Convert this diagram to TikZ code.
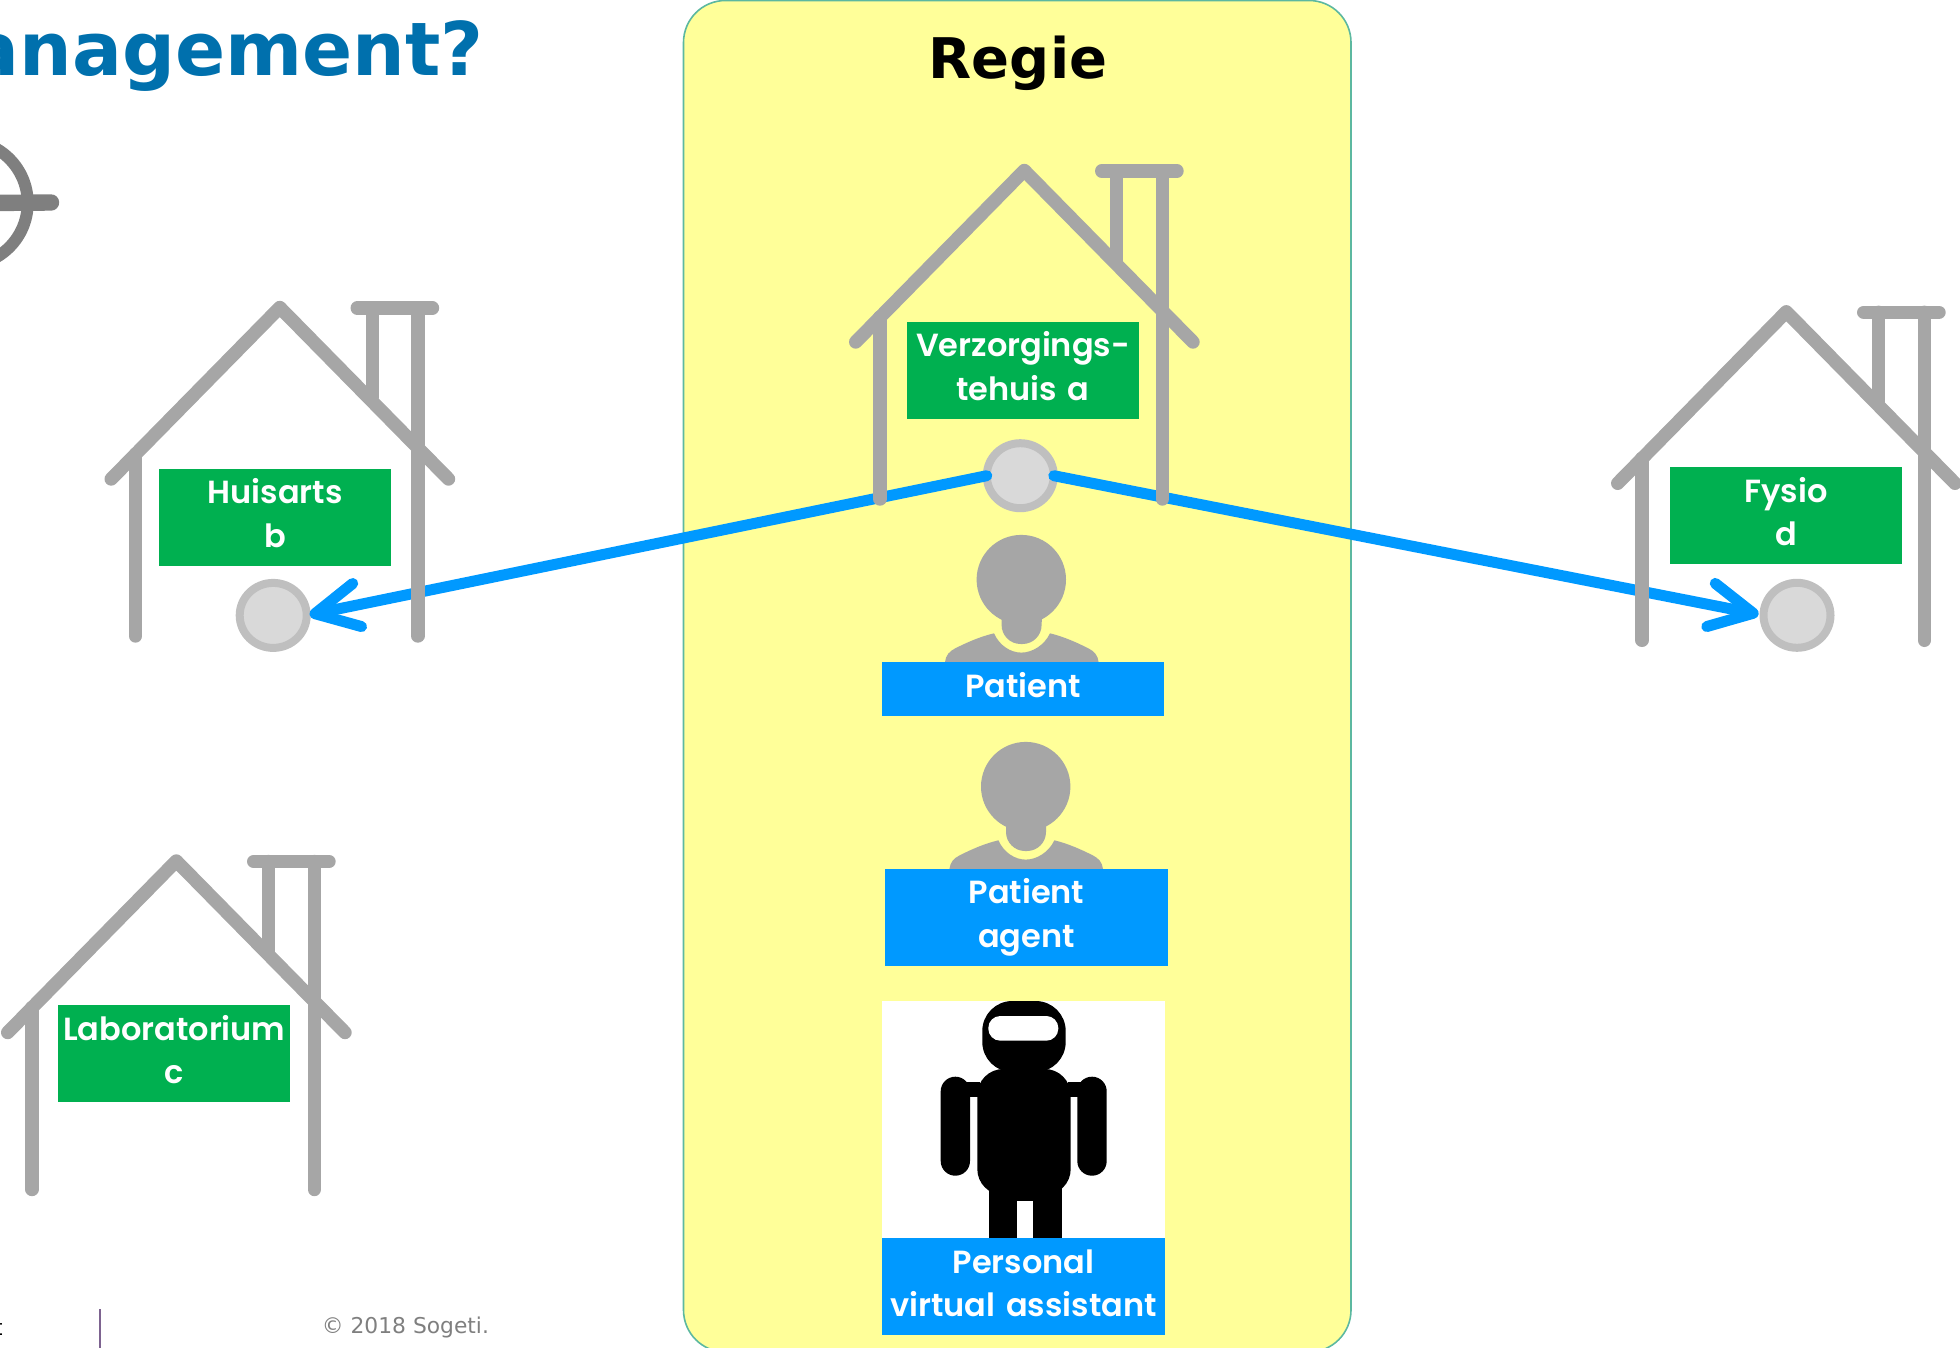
\documentclass[tikz,border=0pt]{standalone}
\usepackage{fontspec}
\setmainfont{DejaVu Sans}
\newfontfamily\labfont{Poppins SemiBold}
\usetikzlibrary{arrows.meta,shapes.geometric}
\definecolor{panelfill}{HTML}{FFFF99}
\definecolor{panelline}{HTML}{5CB8A0}
\definecolor{greyicon}{HTML}{A6A6A6}
\definecolor{greenbox}{HTML}{00B050}
\definecolor{bluebox}{HTML}{0099FF}
\definecolor{titleblue}{HTML}{0070AD}
\definecolor{ringline}{HTML}{BFBFBF}
\definecolor{ringfill}{HTML}{D9D9D9}
\definecolor{footgrey}{HTML}{7F7F7F}
\definecolor{footbar}{HTML}{7D6390}
\tikzset{
  x=0.5pt,y=-0.5pt,
  houseline/.style={draw=greyicon,line width=6.7pt,line cap=round,line join=round},
  house/.pic={
    \draw[houseline] (-168.6,170)--(0,-1.5)--(168.7,170);
    \draw[houseline] (-144.3,145)--(-144.3,327);
    \draw[houseline] (138,-1)--(138,327);
    \draw[houseline] (92.4,-1)--(92.4,88);
    \draw[houseline] (77.4,-1)--(152.7,-1);
  },
  person/.pic={
    \fill[greyicon] (0,2.3) circle[radius=44.7];
    \fill[greyicon,rounded corners=9.5pt] (-19.7,20) rectangle (20.3,66.7);
    \fill[greyicon] (-19.7,20) rectangle (20.3,45);
    \fill[greyicon] (-76.3,84.7) .. controls (-75.5,78) and (-72,74) .. (-66,71)
      .. controls (-55,65.5) and (-42,59.5) .. (-27.3,56)
      .. controls (-22,68) and (-11,75.3) .. (0,75.3)
      .. controls (11,75.3) and (23,68) .. (28.7,56)
      .. controls (43,59.5) and (56,65.5) .. (67,71)
      .. controls (73,74) and (76.5,78) .. (77.3,84.7) -- cycle;
  },
  labelbase/.style={inner sep=0pt,outer sep=0pt,text=white,align=center,
    font=\labfont\fontsize{16}{21.7}\selectfont,text height=17.5pt},
  greenlabel/.style={labelbase,fill=greenbox,text width=116pt,text depth=31pt},
  bluelabel/.style={labelbase,fill=bluebox,text width=141.5pt,text depth=31pt},
  blueone/.style={labelbase,fill=bluebox,text width=141pt,text depth=9.35pt},
  ring/.style={ellipse,draw=ringline,fill=ringfill,line width=4pt,inner sep=0pt,outer sep=0pt,
    minimum width=33.5pt,minimum height=32.5pt},
  conn/.style={draw=bluebox,line width=5.5pt,line cap=round,
    -{Straight Barb[length=21.5pt,width=22pt,round]}},
}
\begin{document}
\begin{tikzpicture}
\useasboundingbox (0,0) rectangle (1960,1348);
\clip (0,0) rectangle (1960,1348);
% title and mark
\node[anchor=base east,inner sep=0pt,text=titleblue,font=\bfseries\fontsize{37}{40}\selectfont] (title) at (484,76) {Management?};
\draw[draw=footgrey,line width=6pt] (-34.8,203) circle[radius=62.5];
\draw[draw=footgrey,line width=8.2pt,line cap=round] (-10,203) -- (51,202.5);
% panel
\draw[fill=panelfill,draw=panelline,line width=0.8pt,rounded corners=21pt] (683.5,0.5) rectangle (1351,1352);
\node[anchor=base,inner sep=0pt,font=\bfseries\fontsize{28}{30}\selectfont] (regie) at (1018,79) {Regie};
% connection points
\node[ring] (ca) at (1020.3,475.7) {};
\node[ring] (cb) at (273.2,615.4) {};
\node[ring] (cd) at (1797,615.3) {};
% connectors
\draw[conn,shorten >=1.5pt] (ca.west) -- (cb.east);
\draw[conn,shorten >=2.5pt] (ca.east) -- (cd.west);
% houses
\pic at (1024.3,172) {house};
\pic at (279.8,309) {house};
\pic at (1786.3,313.3) {house};
\pic at (176.3,862.5) {house};
% house labels
\node[greenlabel] (huis) at (275.1,517.3) {Huisarts\\b};
\node[greenlabel] (verz) at (1023,370.5) {Verzorgings-\\tehuis a};
\node[greenlabel] (fys) at (1786,515.5) {Fysio\\d};
\node[greenlabel] (lab) at (174.3,1053.7) {Laboratorium\\c};
% persons
\pic at (1021.3,577.3) {person};
\pic at (1025.7,784.3) {person};
\node[blueone] (pat) at (1023,688.9) {Patient};
\node[bluelabel] (agent) at (1026.5,917.4) {Patient\\agent};
% robot
\fill[white] (882,1001) rectangle (1165,1238);
\fill[black,rounded corners=15pt] (982.3,1001) rectangle (1065.7,1072);
\fill[white,rounded corners=6pt] (988.3,1016) rectangle (1058.3,1040.7);
\fill[black,rounded corners=13pt] (977.3,1069) rectangle (1070.7,1195);
\fill[black] (989,1180) rectangle (1061.7,1238);
\fill[white] (1017.3,1200.7) rectangle (1032.7,1238);
\fill[black,rounded corners=7.3pt] (940.7,1076.7) rectangle (970,1175.7);
\fill[black,rounded corners=7.3pt] (1077.3,1076.7) rectangle (1106.7,1175.7);
\fill[black] (965,1082) rectangle (980,1097.3);
\fill[black] (1068,1082) rectangle (1082,1097.3);
\node[bluelabel] (pva) at (1023.5,1286.5) {Personal\\virtual assistant};
% footer
\node[anchor=base east,inner sep=0pt,font=\fontsize{10.9}{13}\selectfont] (cut) at (3,1335) {t};
\draw[draw=footbar,line width=0.8pt] (100,1309) -- (100,1348);
\node[anchor=base west,inner sep=0pt,text=footgrey,font=\fontsize{10.9}{13}\selectfont] (copy) at (321.5,1333) {© 2018 Sogeti.};
\end{tikzpicture}
\end{document}
